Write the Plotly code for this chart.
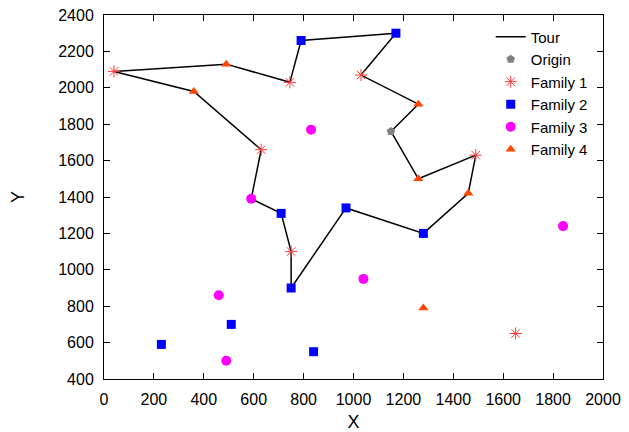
import plotly.graph_objects as go

# Tour (visiting order, closed at origin)
tour_x = [1150, 1260, 1030, 1170, 790, 745, 490, 40, 360, 630, 590, 710, 750, 750, 970, 1280, 1460, 1490, 1260, 1150]
tour_y = [1760, 1910, 2070, 2300, 2260, 2030, 2130, 2090, 1980, 1660, 1390, 1310, 1100, 900, 1340, 1200, 1420, 1630, 1500, 1760]

origin_x = [1150]
origin_y = [1760]

fam1_x = [40, 745, 1030, 630, 750, 1490, 1650]
fam1_y = [2090, 2030, 2070, 1660, 1100, 1630, 650]

fam2_x = [790, 1170, 710, 970, 750, 1280, 510, 230, 840]
fam2_y = [2260, 2300, 1310, 1340, 900, 1200, 700, 590, 550]

fam3_x = [830, 590, 460, 490, 1040, 1840]
fam3_y = [1770, 1390, 860, 500, 950, 1240]

fam4_x = [490, 360, 1260, 1260, 1460, 1280]
fam4_y = [2130, 1980, 1910, 1500, 1420, 790]

x_ticks = list(range(0, 2001, 200))
y_ticks = list(range(400, 2401, 200))

FONT = "Liberation Sans, Arial, Helvetica, sans-serif"

fig = go.Figure()
fig.add_trace(go.Scatter(x=tour_x, y=tour_y, mode="lines", name="Tour",
                         line=dict(color="black", width=1.5)))
fig.add_trace(go.Scatter(x=origin_x, y=origin_y, mode="markers", name="Origin",
                         marker=dict(symbol="pentagon", size=9, color="#808080")))
fig.add_trace(go.Scatter(x=fam1_x, y=fam1_y, mode="markers", name="Family 1",
                         marker=dict(symbol="asterisk-open", size=10, color="#ff3a3a",
                                     line=dict(color="#ff4a4a", width=1))))
fig.add_trace(go.Scatter(x=fam2_x, y=fam2_y, mode="markers", name="Family 2",
                         marker=dict(symbol="square", size=9, color="#0000ff")))
fig.add_trace(go.Scatter(x=fam3_x, y=fam3_y, mode="markers", name="Family 3",
                         marker=dict(symbol="circle", size=10, color="#ff00ff")))
fig.add_trace(go.Scatter(x=fam4_x, y=fam4_y, mode="markers", name="Family 4",
                         marker=dict(symbol="triangle-up", size=9, color="#ff4500")))

axis_common = dict(showline=True, linecolor="black", linewidth=1, mirror="ticks",
                   ticks="inside", ticklen=6, tickcolor="black", showgrid=False,
                   zeroline=False, automargin=False,
                   tickfont=dict(size=16, color="black", family=FONT))

fig.update_xaxes(range=[0, 2000], tickvals=x_ticks,
                 title=dict(text="X", font=dict(size=18, family=FONT), standoff=10),
                 ticklabelstandoff=6, **axis_common)
fig.update_yaxes(range=[400, 2400], tickvals=y_ticks,
                 title=dict(text="Y", font=dict(size=18, family=FONT), standoff=28),
                 ticklabelstandoff=6, **axis_common)

fig.update_layout(
    width=629, height=432,
    margin=dict(l=104, r=26, t=15, b=53),
    plot_bgcolor="white", paper_bgcolor="white",
    font=dict(family=FONT, color="black"),
    legend=dict(x=0.775, y=0.985, xanchor="left", yanchor="top",
                bgcolor="rgba(0,0,0,0)", borderwidth=0,
                font=dict(size=15, family=FONT, color="black")),
)

fig.write_html("out.html",
               config={"displayModeBar": False},
               post_script="document.body.style.margin='0';document.body.style.overflow='hidden';")
